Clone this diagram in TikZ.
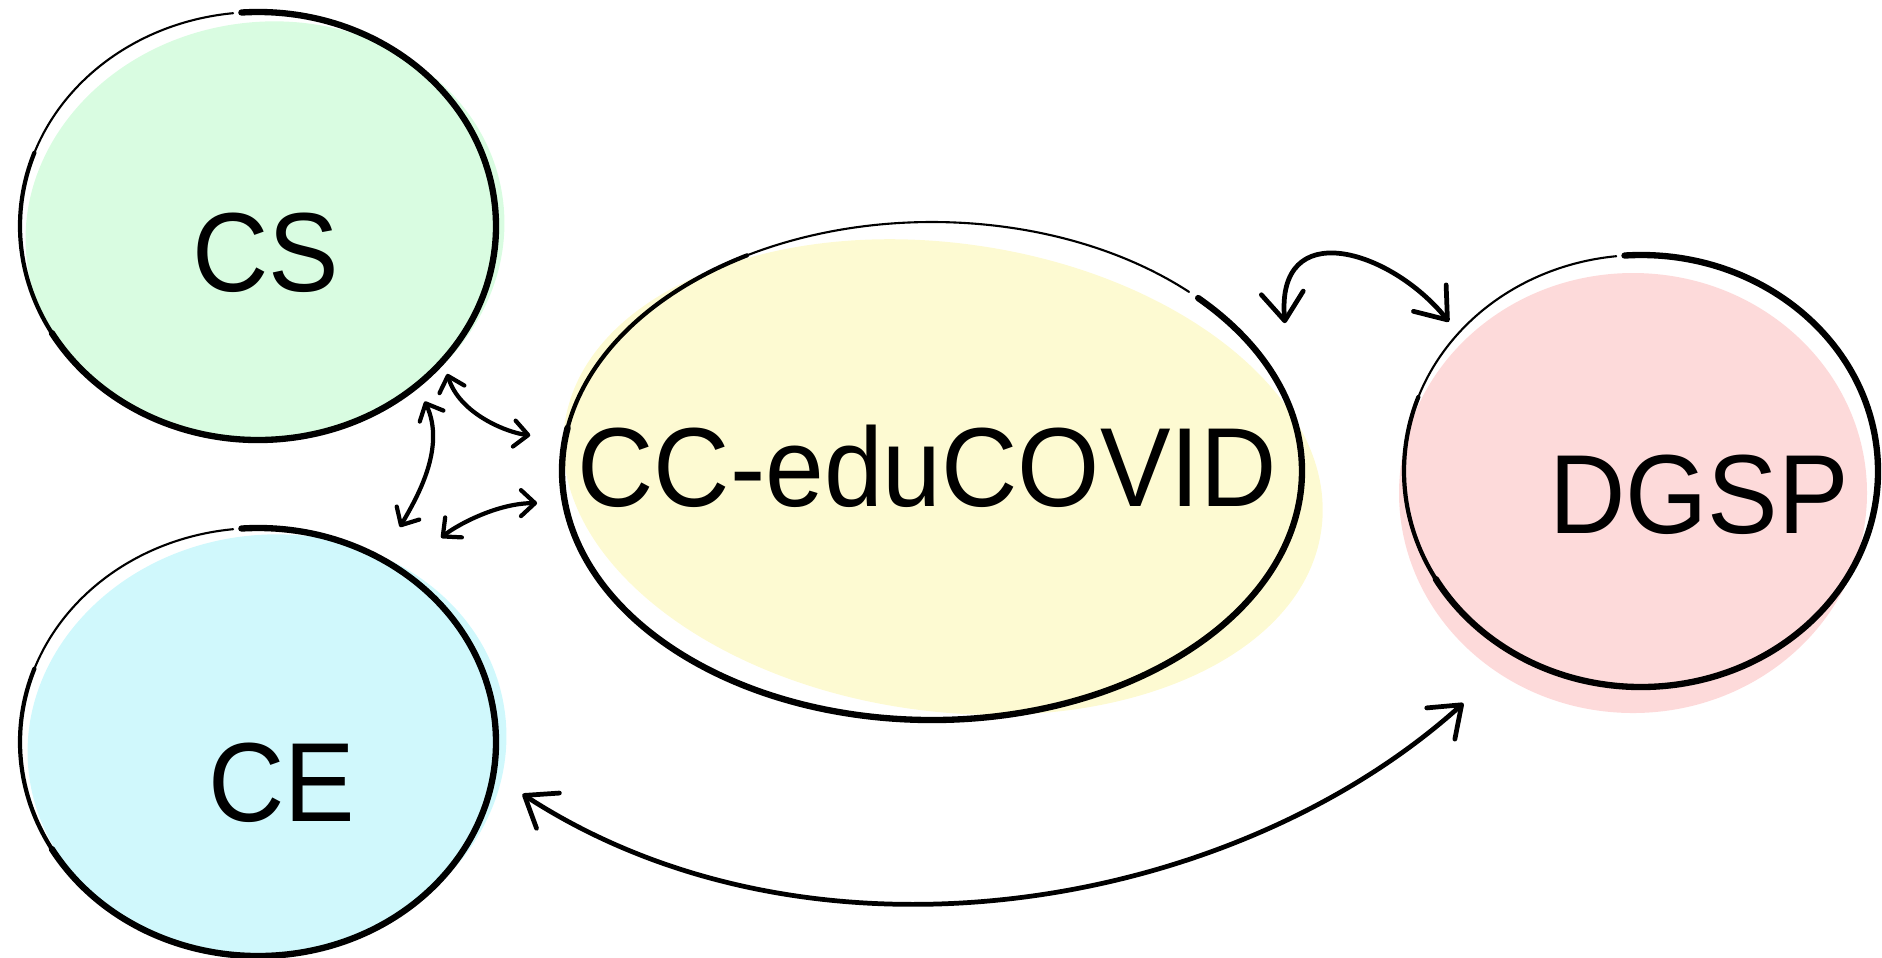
\documentclass[tikz,border=0pt]{standalone}
\usepackage{fontspec}
\setmainfont{Liberation Sans}[FakeStretch=0.94]
\usetikzlibrary{arrows.meta, positioning, shapes.geometric}

\definecolor{csgreen}{RGB}{217,252,225}
\definecolor{cecyan}{RGB}{208,248,252}
\definecolor{ccyellow}{RGB}{253,250,210}
\definecolor{dgpink}{RGB}{253,218,218}

\begin{document}
\begin{tikzpicture}[
      node distance=8.8mm and 10.2mm,
      disc/.style={ellipse, inner sep=0pt, outer sep=0pt},
      tag/.style={inner sep=0pt, font=\fontsize{32}{38}\selectfont},
      rim/.style={line width=#1, line cap=round},
      link/.style={<->, >={Straight Barb[round, length=1.4mm, width=2.6mm]}, line width=1.2pt},
      biglink/.style={<->, >={Straight Barb[round, length=2.8mm, width=4.2mm]}, line width=1.35pt}
    ]
    \useasboundingbox (0,0) rectangle (18.82,-9.57);

    % colour blobs behind the rims
    \fill[csgreen, rotate around={8:(2.65,-2.31)}] (2.65,-2.31) ellipse[x radius=2.40, y radius=2.09];
    \fill[cecyan, rotate around={8:(2.67,-7.44)}] (2.67,-7.44) ellipse[x radius=2.40, y radius=2.09];
    \fill[ccyellow, rotate around={-8:(9.43,-4.77)}] (9.43,-4.77) ellipse[x radius=3.82, y radius=2.34];
    \fill[dgpink] (16.33,-4.93) ellipse[x radius=2.34, y radius=2.20];

    \node[disc, minimum width=47.6mm, minimum height=42.8mm] (cs) at (2.58,-2.26) {};
    \node[disc, minimum width=47.6mm, minimum height=42.8mm, below=of cs] (ce) {};
    \node[disc, minimum width=74mm, minimum height=49.8mm] (cc) at (9.32,-4.71) {};
    \node[disc, minimum width=47.4mm, minimum height=43.2mm, right=of cc] (dg) {};

    % hand drawn rims: thick, then thinning out
    \draw[rim=1.8pt] ([shift={(94:2.38 and 2.14)}]cs.center) arc[start angle=94, end angle=-150, x radius=2.38, y radius=2.14];
    \draw[rim=1.2pt] ([shift={(-150:2.38 and 2.14)}]cs.center) arc[start angle=-150, end angle=-200, x radius=2.38, y radius=2.14];
    \draw[rim=0.6pt] ([shift={(-200:2.38 and 2.14)}]cs.center) arc[start angle=-200, end angle=-264, x radius=2.38, y radius=2.14];

    \draw[rim=1.8pt] ([shift={(94:2.38 and 2.14)}]ce.center) arc[start angle=94, end angle=-150, x radius=2.38, y radius=2.14];
    \draw[rim=1.2pt] ([shift={(-150:2.38 and 2.14)}]ce.center) arc[start angle=-150, end angle=-200, x radius=2.38, y radius=2.14];
    \draw[rim=0.6pt] ([shift={(-200:2.38 and 2.14)}]ce.center) arc[start angle=-200, end angle=-264, x radius=2.38, y radius=2.14];

    \draw[rim=1.8pt] ([shift={(44:3.70 and 2.49)}]cc.center) arc[start angle=44, end angle=-190, x radius=3.70, y radius=2.49];
    \draw[rim=1.2pt] ([shift={(-190:3.70 and 2.49)}]cc.center) arc[start angle=-190, end angle=-240, x radius=3.70, y radius=2.49];
    \draw[rim=0.6pt] ([shift={(-240:3.70 and 2.49)}]cc.center) arc[start angle=-240, end angle=-314, x radius=3.70, y radius=2.49];

    \draw[rim=1.8pt] ([shift={(94:2.37 and 2.16)}]dg.center) arc[start angle=94, end angle=-150, x radius=2.37, y radius=2.16];
    \draw[rim=1.2pt] ([shift={(-150:2.37 and 2.16)}]dg.center) arc[start angle=-150, end angle=-200, x radius=2.37, y radius=2.16];
    \draw[rim=0.6pt] ([shift={(-200:2.37 and 2.16)}]dg.center) arc[start angle=-200, end angle=-264, x radius=2.37, y radius=2.16];

    \node[tag] (cslabel) at ([shift={(0.08,-0.27)}]cs.center) {CS};
    \node[tag] (celabel) at ([shift={(0.24,-0.41)}]ce.center) {CE};
    \node[tag] (cclabel) at ([shift={(-0.05,0.05)}]cc.center) {CC-eduCOVID};
    \node[tag] (dglabel) at ([shift={(0.58,-0.24)}]dg.center) {DGSP};

    \draw[link, shorten <=1.4mm, shorten >=3.5mm] (cs.-36) to[out=-73, in=174] (cc.175);
    \draw[link, shorten <=1.8mm, shorten >=3.7mm] (cs.-45) to[out=-65, in=60] (ce.56);
    \draw[link, shorten <=5.2mm, shorten >=2.8mm] (ce.50) to[out=40, in=180] (cc.185);
    \draw[biglink, shorten >=1.5mm] ([xshift=4mm, yshift=1.5mm]cc.23) to[out=95, in=129, looseness=1.6] (dg.143);
    \draw[biglink, shorten <=3.5mm, shorten >=7.2mm] (ce.-8.5) to[out=-33, in=-138, looseness=0.95] (dg.-124);
\end{tikzpicture}
\end{document}
